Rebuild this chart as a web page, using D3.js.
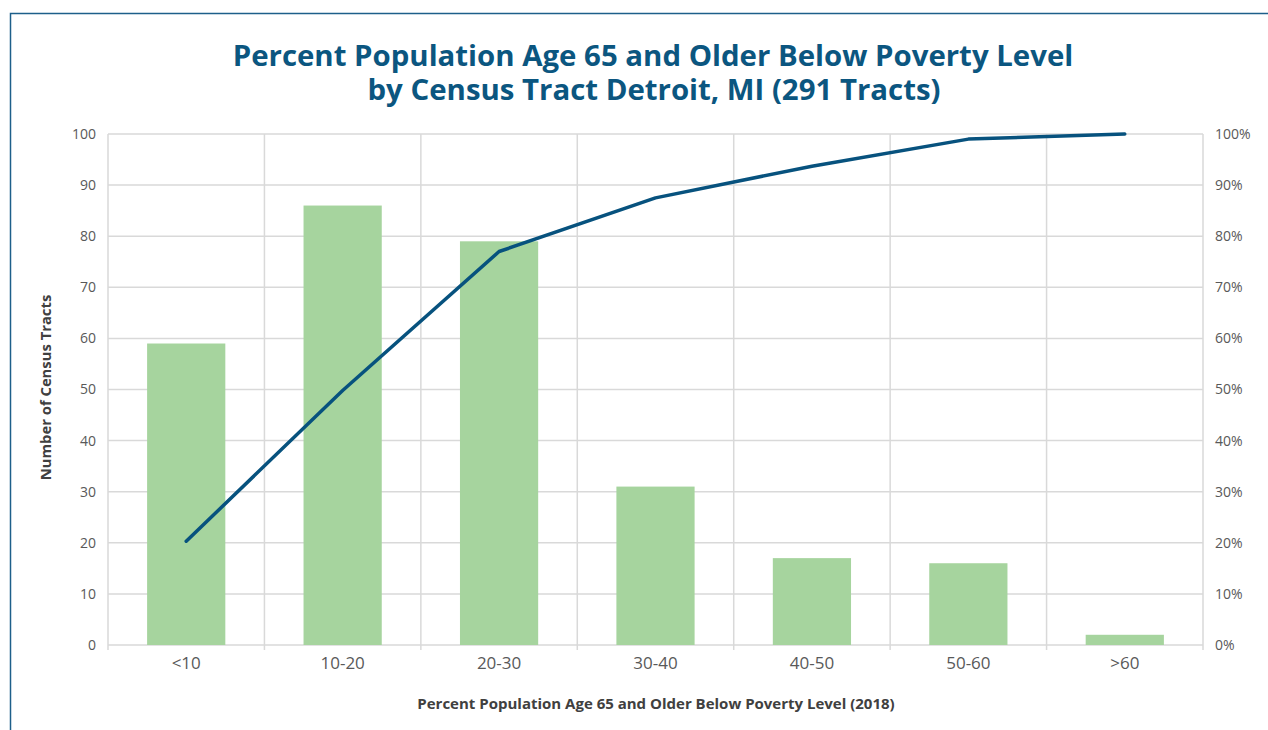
<!DOCTYPE html>
<html>
<head>
<meta charset="utf-8">
<script src="https://cdn.jsdelivr.net/npm/d3@7"></script>
<style>
  body { margin: 0; background: #fff; }
  svg text { font-family: "Open Sans", "Noto Sans", sans-serif; }
</style>
</head>
<body>
<div class="graph"></div>
<script>
// Data
const categories = ['<10', '10-20', '20-30', '30-40', '40-50', '50-60', '>60'];
const tractCounts = [59, 86, 79, 31, 17, 16, 2];
const cumulativePct = [20.3, 49.8, 77.0, 87.5, 93.7, 99.0, 100];
const leftTicks = [0, 10, 20, 30, 40, 50, 60, 70, 80, 90, 100];
const rightTicks = [0, 10, 20, 30, 40, 50, 60, 70, 80, 90, 100];

const W = 1268, H = 730;
const margin = { top: 134, right: 65, bottom: 85, left: 108 };
const width = W - margin.left - margin.right;
const height = H - margin.top - margin.bottom;

const root = d3.select('.graph')
    .append('svg')
    .attr('width', W)
    .attr('height', H);

// Frame
root.append('path')
    .attr('d', `M10.5,${H} L10.5,13.5 L${W},13.5`)
    .attr('fill', 'none')
    .attr('stroke', '#1d5f8a')
    .attr('stroke-width', 1.5);

// Title
const title = root.append('text')
    .attr('text-anchor', 'middle')
    .attr('fill', '#0b5680')
    .attr('font-weight', 'bold')
    .attr('font-size', 29.4);
title.append('tspan').attr('x', 653).attr('y', 66)
    .text('Percent Population Age 65 and Older Below Poverty Level');
title.append('tspan').attr('x', 654).attr('y', 100)
    .text('by Census Tract Detroit, MI (291 Tracts)');

const svg = root.append('g')
    .attr('transform', `translate(${margin.left},${margin.top})`);

// Scales
const xScale = d3.scaleBand()
    .domain(categories)
    .range([0, width])
    .paddingInner(0.5)
    .paddingOuter(0.25);

const xEdge = d3.scaleLinear()
    .domain([0, categories.length])
    .range([0, width]);

const yScale = d3.scaleLinear()
    .domain([0, 100])
    .range([height, 0]);

const yPct = d3.scaleLinear()
    .domain([0, 100])
    .range([height, 0]);

// Horizontal grid
svg.append('g')
    .selectAll('line')
    .data(leftTicks)
    .enter()
    .append('line')
    .attr('x1', 0)
    .attr('x2', width)
    .attr('y1', d => yScale(d))
    .attr('y2', d => yScale(d))
    .attr('stroke', '#d9d9d9')
    .attr('stroke-width', 1.5);

// Vertical grid + ticks below axis
svg.append('g')
    .selectAll('line')
    .data(d3.range(categories.length + 1))
    .enter()
    .append('line')
    .attr('x1', d => xEdge(d))
    .attr('x2', d => xEdge(d))
    .attr('y1', 0)
    .attr('y2', height + 5)
    .attr('stroke', '#d9d9d9')
    .attr('stroke-width', 1.5);

// Bars
svg.selectAll('.bar')
    .data(tractCounts)
    .enter()
    .append('rect')
    .attr('class', 'bar')
    .attr('x', (d, i) => xScale(categories[i]))
    .attr('y', d => yScale(d))
    .attr('width', xScale.bandwidth())
    .attr('height', d => height - yScale(d))
    .attr('fill', '#a6d49e');

// Cumulative line
const line = d3.line()
    .x((d, i) => xScale(categories[i]) + xScale.bandwidth() / 2)
    .y(d => yPct(d));

svg.append('path')
    .datum(cumulativePct)
    .attr('d', line)
    .attr('fill', 'none')
    .attr('stroke', '#07527e')
    .attr('stroke-width', 3.5)
    .attr('stroke-linejoin', 'round')
    .attr('stroke-linecap', 'round');

// Axes
const xAxis = d3.axisBottom(xScale).tickSize(0).tickPadding(12);
const yAxis = d3.axisLeft(yScale).tickValues(leftTicks).tickSize(0).tickPadding(12);
const yAxisRight = d3.axisRight(yPct).tickValues(rightTicks).tickSize(0).tickPadding(12)
    .tickFormat(d => d + '%');

const styleAxis = size => g => {
    g.select('.domain').remove();
    g.selectAll('text')
        .attr('fill', '#595959')
        .attr('font-size', size);
};

svg.append('g')
    .attr('transform', `translate(0,${height})`)
    .call(xAxis)
    .call(styleAxis(17));

svg.append('g')
    .call(yAxis)
    .call(styleAxis(14));

svg.append('g')
    .attr('transform', `translate(${width},0)`)
    .call(yAxisRight)
    .call(styleAxis(14));

// Axis titles
root.append('text')
    .attr('transform', `translate(51,${margin.top + height / 2 - 2}) rotate(-90)`)
    .attr('text-anchor', 'middle')
    .attr('fill', '#404040')
    .attr('font-weight', 'bold')
    .attr('font-size', 14.8)
    .text('Number of Census Tracts');

root.append('text')
    .attr('x', 656)
    .attr('y', 709)
    .attr('text-anchor', 'middle')
    .attr('fill', '#404040')
    .attr('font-weight', 'bold')
    .attr('font-size', 15)
    .text('Percent Population Age 65 and Older Below Poverty Level (2018)');
</script>
</body>
</html>
